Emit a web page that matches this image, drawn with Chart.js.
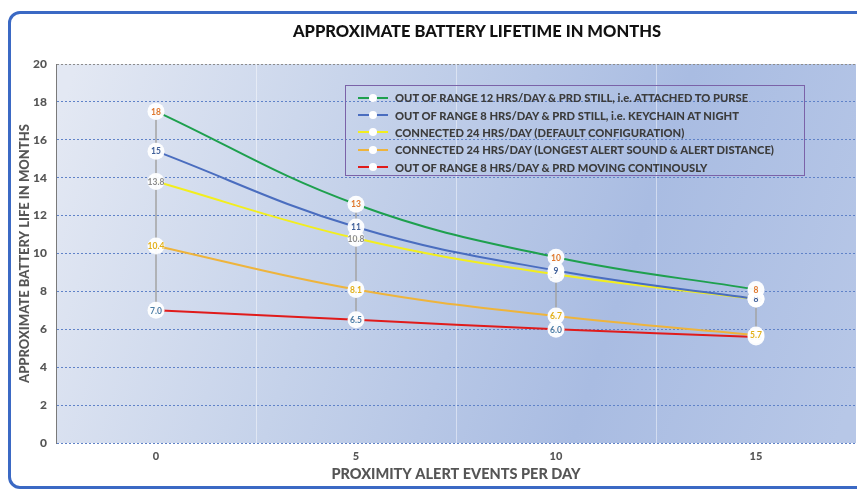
<!DOCTYPE html>
<html>
<head>
<meta charset="utf-8">
<script src="https://cdn.jsdelivr.net/npm/chart.js@4"></script>
<style>
html, body { margin: 0; padding: 0; background: #fff; overflow: hidden; }
#wrap { position: relative; width: 857px; height: 489px; }
#frame { position: absolute; left: 8px; top: 11px; width: 900px; height: 472px; border: 3px solid #3b69c4; border-radius: 12px; }
#myChart { position: absolute; left: 0; top: 0; }
#title { position: absolute; left: 277px; width: 400px; top: 21px; text-align: center; font: 900 16.5px Lato, "Open Sans", sans-serif; color: #111; white-space: nowrap; }
#legend { position: absolute; left: 345px; top: 85px; width: 460px; height: 91px; border: 1px solid #7b62a8; box-sizing: border-box; padding-top: 3px; }
.item { height: 17.4px; display: flex; align-items: center; padding-left: 12px; font: 900 11.2px Lato, "Open Sans", sans-serif; color: #3c3c3c; white-space: nowrap; }
.swatch { position: relative; width: 30px; height: 10px; margin-right: 7px; }
.swatch .ln { position: absolute; left: 0; right: 0; top: 4px; height: 2px; }
.swatch .dot { position: absolute; left: 11px; top: 1px; width: 8px; height: 8px; border-radius: 50%; background: #fff; }
</style>
</head>
<body>
<div id="wrap">
  <div id="frame"></div>
  <canvas id="myChart" width="857" height="489"></canvas>
  <div id="title">APPROXIMATE BATTERY LIFETIME IN MONTHS</div>
  <div id="legend"></div>
</div>
<script>
const alertEvents = ['0', '5', '10', '15'];
const seriesNames = [
    'OUT OF RANGE 12 HRS/DAY & PRD STILL, i.e. ATTACHED TO PURSE',
    'OUT OF RANGE 8 HRS/DAY & PRD STILL, i.e. KEYCHAIN AT NIGHT',
    'CONNECTED 24 HRS/DAY (DEFAULT CONFIGURATION)',
    'CONNECTED 24 HRS/DAY (LONGEST ALERT SOUND & ALERT DISTANCE)',
    'OUT OF RANGE 8 HRS/DAY & PRD MOVING CONTINOUSLY'
];
const purse12h = [17.5, 12.6, 9.8, 8.1];
const keychain8h = [15.4, 11.4, 9.1, 7.6];
const connectedDefault = [13.8, 10.8, 8.9, 7.6];
const connectedLongest = [10.4, 8.1, 6.7, 5.7];
const moving8h = [7.0, 6.5, 6.0, 5.6];
const yTicks = [0, 2, 4, 6, 8, 10, 12, 14, 16, 18, 20];

const lineColors = ['#1ea04e', '#4a6dbf', '#f2ee1e', '#eeb43c', '#e01b1b'];
const labelColors = ['#e0782e', '#3f5f99', '#8a8a8a', '#e2b01a', '#4d7ea6'];
const labelDecimals = [0, 0, 1, 1, 1];
const allSeries = [purse12h, keychain8h, connectedDefault, connectedLongest, moving8h];

const fontFamily = 'Lato, "Open Sans", sans-serif';

// legend (html)
const legendDiv = document.getElementById('legend');
seriesNames.forEach((name, i) => {
    const row = document.createElement('div');
    row.className = 'item';
    row.innerHTML = '<span class="swatch"><span class="ln" style="background:' + lineColors[i] + '"></span><span class="dot"></span></span>' + name.replace('&', '&amp;');
    legendDiv.appendChild(row);
});

// gradient behind the plot area
const plotBackground = {
    id: 'plotBackground',
    beforeDraw(chart) {
        const { ctx, chartArea: a } = chart;
        const g = ctx.createLinearGradient(a.left, a.top + 60, a.right, a.bottom - 60);
        g.addColorStop(0, '#e3e8f3');
        g.addColorStop(0.35, '#c5d2ea');
        g.addColorStop(0.7, '#a9bce2');
        g.addColorStop(1, '#b7c7e7');
        ctx.save();
        ctx.fillStyle = g;
        ctx.fillRect(a.left, a.top, a.right - a.left, a.bottom - a.top);
        ctx.restore();
    }
};

// grey high-low line at each category
const hiLoLines = {
    id: 'hiLoLines',
    beforeDatasetsDraw(chart) {
        const { ctx, scales } = chart;
        ctx.save();
        ctx.strokeStyle = '#a3a3a3';
        ctx.lineWidth = 1.5;
        alertEvents.forEach((_, j) => {
            const vals = allSeries.map(s => s[j]);
            const x = scales.x.getPixelForValue(j);
            ctx.beginPath();
            ctx.moveTo(x, scales.y.getPixelForValue(Math.max(...vals)));
            ctx.lineTo(x, scales.y.getPixelForValue(Math.min(...vals)));
            ctx.stroke();
        });
        ctx.restore();
    }
};

// white round value labels, first series drawn on top
const valueLabels = {
    id: 'valueLabels',
    afterDatasetsDraw(chart) {
        const ctx = chart.ctx;
        ctx.save();
        ctx.textAlign = 'center';
        ctx.textBaseline = 'middle';
        ctx.font = 'bold 8.5px ' + fontFamily;
        for (let i = chart.data.datasets.length - 1; i >= 0; i--) {
            const ds = chart.data.datasets[i];
            chart.getDatasetMeta(i).data.forEach((pt, j) => {
                ctx.fillStyle = 'rgba(255,255,255,0.95)';
                ctx.beginPath();
                ctx.arc(pt.x, pt.y, 8.5, 0, Math.PI * 2);
                ctx.fill();
                ctx.fillStyle = labelColors[i];
                ctx.fillText(ds.data[j].toFixed(labelDecimals[i]), pt.x, pt.y + 0.5);
            });
        }
        ctx.restore();
    }
};

const ctx = document.getElementById('myChart').getContext('2d');
const myChart = new Chart(ctx, {
    type: 'line',
    data: {
        labels: alertEvents,
        datasets: allSeries.map((vals, i) => ({
            label: seriesNames[i],
            data: vals,
            borderColor: lineColors[i],
            backgroundColor: lineColors[i],
            borderWidth: 2,
            pointRadius: 0,
            tension: 0.4
        }))
    },
    options: {
        responsive: false,
        animation: false,
        layout: { padding: { left: 0, right: 1, top: 64, bottom: 0 } },
        scales: {
            x: {
                offset: true,
                grid: { offset: true, color: 'rgba(255,255,255,0.45)', drawTicks: false },
                border: { display: false },
                ticks: { padding: 7, color: '#555', font: { family: fontFamily, size: 11, weight: 900 } },
                title: {
                    display: true,
                    text: 'PROXIMITY ALERT EVENTS PER DAY',
                    color: '#555',
                    font: { family: fontFamily, size: 14.5, weight: 900 },
                    padding: { top: 0, bottom: 6 }
                },
                afterFit: s => { s.height = 46; }
            },
            y: {
                min: 0,
                max: 20,
                afterBuildTicks: s => { s.ticks = yTicks.map(v => ({ value: v })); },
                grid: {
                    drawTicks: false,
                    color: c => c.tick.value === 20 ? '#8c8c8c' : '#5f82c8',
                    lineWidth: 1
                },
                border: { color: '#7a7a7a', dash: [2, 2] },
                ticks: { padding: 9, color: '#555', font: { family: fontFamily, size: 12, weight: 900 } },
                title: {
                    display: true,
                    text: 'APPROXIMATE BATTERY LIFE IN MONTHS',
                    color: '#555',
                    font: { family: fontFamily, size: 13, weight: 900 },
                    padding: { top: 17, bottom: 0 }
                },
                afterFit: s => { s.width = 56; }
            }
        },
        plugins: {
            legend: { display: false },
            tooltip: { enabled: false }
        }
    },
    plugins: [plotBackground, hiLoLines, valueLabels]
});
</script>
</body>
</html>
